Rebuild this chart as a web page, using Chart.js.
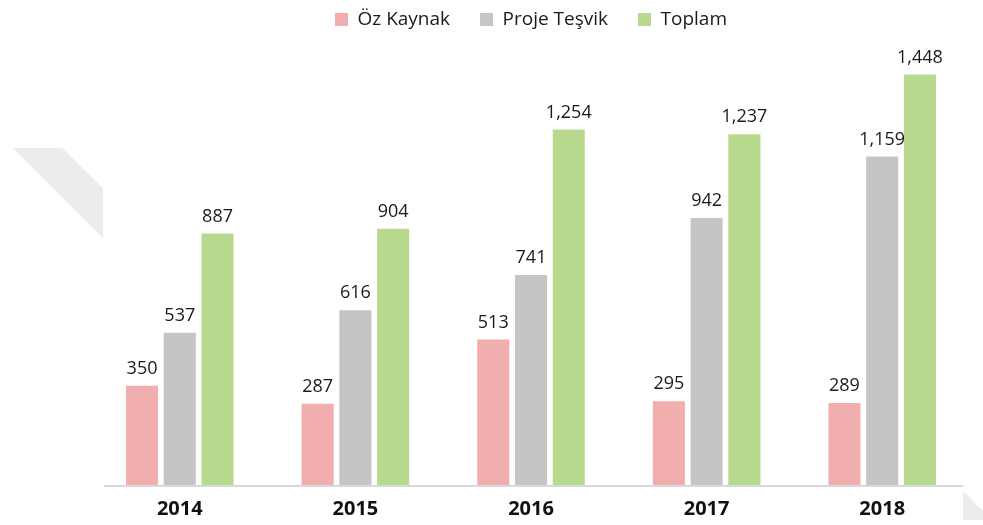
<!DOCTYPE html>
<html lang="tr">
<head>
    <meta charset="UTF-8">
    <title>Öz Kaynak / Proje Teşvik</title>
    <script src="https://cdn.jsdelivr.net/npm/chart.js"></script>
    <style>
        html, body { margin: 0; padding: 0; background: #fff; }
        #wrap { width: 983px; height: 525px; position: relative; }
    </style>
</head>
<body>
    <div id="wrap"><canvas id="chart"></canvas></div>

    <script>
        // data
        const years = ['2014', '2015', '2016', '2017', '2018'];
        const ozKaynak = [350, 287, 513, 295, 289];
        const projeTesvik = [537, 616, 741, 942, 1159];
        const toplam = [887, 904, 1254, 1237, 1448];

        const FONT = "'Open Sans', 'DejaVu Sans', sans-serif";

        // faint grey stripe behind the plot + axis line
        const backdrop = {
            id: 'backdrop',
            beforeDraw(chart) {
                const c = chart.ctx;
                const a = chart.chartArea;
                c.save();
                c.fillStyle = '#ececec';
                c.beginPath();
                c.moveTo(13, 148);
                c.lineTo(62, 148);
                c.lineTo(a.left + 11, 188);
                c.lineTo(a.left + 11, 238);
                c.closePath();
                c.fill();
                c.beginPath();
                c.moveTo(a.right - 7, a.bottom + 6);
                c.lineTo(a.right + 13, a.bottom + 26);
                c.lineTo(a.right + 13, a.bottom + 35);
                c.lineTo(a.right - 7, a.bottom + 35);
                c.closePath();
                c.fill();
                c.restore();
            },
            afterDatasetsDraw(chart) {
                const c = chart.ctx;
                const a = chart.chartArea;
                c.save();
                c.strokeStyle = '#d9d9d9';
                c.lineWidth = 2;
                c.beginPath();
                c.moveTo(a.left + 12, a.bottom + 1);
                c.lineTo(a.right - 7, a.bottom + 1);
                c.stroke();
                c.restore();
            }
        };

        // value labels above the bars
        const valueLabels = {
            id: 'valueLabels',
            afterDatasetsDraw(chart) {
                const c = chart.ctx;
                c.save();
                c.font = '18px ' + FONT;
                c.fillStyle = '#1a1a1a';
                c.textAlign = 'center';
                c.textBaseline = 'bottom';
                chart.data.datasets.forEach((ds, i) => {
                    chart.getDatasetMeta(i).data.forEach((bar, j) => {
                        c.fillText(ds.data[j].toLocaleString('en-US'), bar.x, bar.y - 8);
                    });
                });
                c.restore();
            }
        };

        new Chart(document.getElementById('chart'), {
            type: 'bar',
            data: {
                labels: years,
                datasets: [
                    { label: 'Öz Kaynak', data: ozKaynak, backgroundColor: '#f0aeae' },
                    { label: 'Proje Teşvik', data: projeTesvik, backgroundColor: '#c4c5c4' },
                    { label: 'Toplam', data: toplam, backgroundColor: '#b8da8f' }
                ]
            },
            options: {
                responsive: true,
                maintainAspectRatio: false,
                animation: false,
                layout: { padding: { left: 92, right: 13, top: -20, bottom: -8 } },
                datasets: { bar: { categoryPercentage: 0.645, barPercentage: 0.85 } },
                plugins: {
                    legend: {
                        position: 'top',
                        labels: {
                            font: { family: FONT, size: 19 },
                            color: '#1a1a1a',
                            boxWidth: 13,
                            boxHeight: 13,
                            padding: 30
                        }
                    },
                    tooltip: { enabled: false }
                },
                scales: {
                    x: {
                        grid: { display: false, drawTicks: false },
                        border: { display: false },
                        ticks: {
                            font: { family: FONT, size: 20, weight: 'bold' },
                            color: '#111',
                            padding: 12
                        }
                    },
                    y: {
                        display: false,
                        min: 0,
                        max: 1573
                    }
                }
            },
            plugins: [backdrop, valueLabels]
        });
    </script>
</body>
</html>
